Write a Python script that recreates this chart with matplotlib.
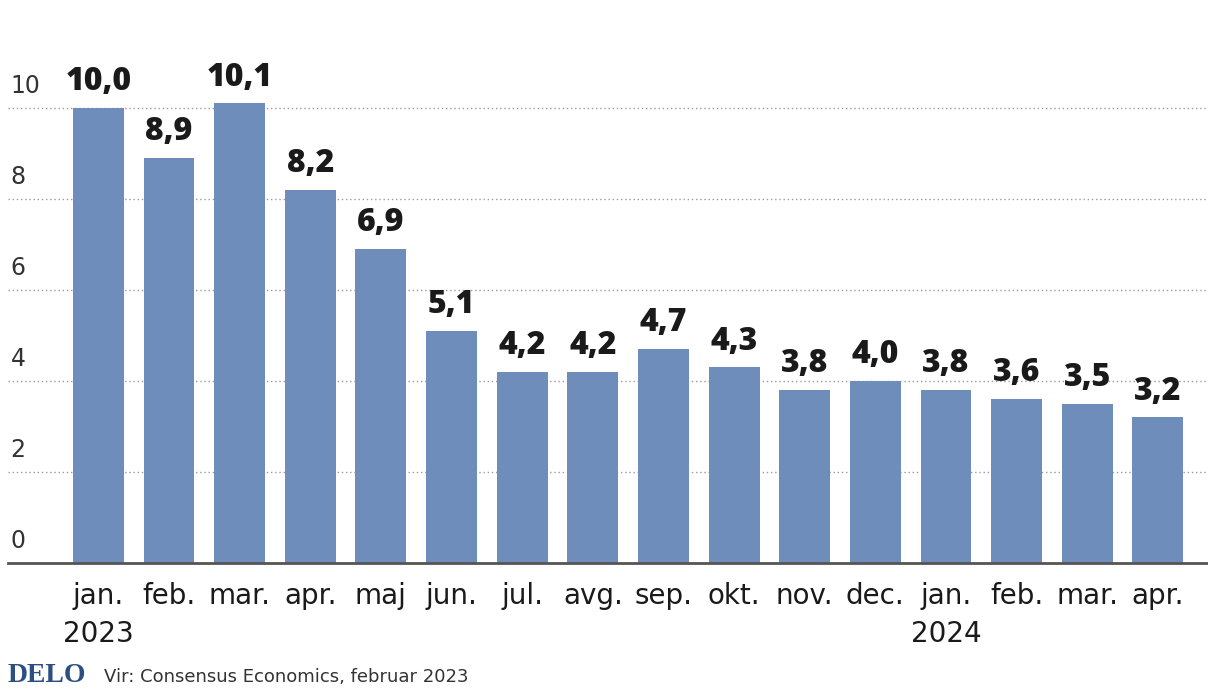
import numpy as np
import matplotlib.pyplot as plt
from matplotlib.transforms import blended_transform_factory

# data
months = ["jan.", "feb.", "mar.", "apr.", "maj", "jun.", "jul.", "avg.",
          "sep.", "okt.", "nov.", "dec.", "jan.", "feb.", "mar.", "apr."]
years = {0: "2023", 12: "2024"}
values = [10.0, 8.9, 10.1, 8.2, 6.9, 5.1, 4.2, 4.2,
          4.7, 4.3, 3.8, 4.0, 3.8, 3.6, 3.5, 3.2]
yticks = [0, 2, 4, 6, 8, 10]

NARROW = ['DejaVu Sans']
BOLD = ['Open Sans', 'DejaVu Sans']
BAR_COLOR = '#6e8dbb'

fig = plt.figure(figsize=(12.08, 6.98), dpi=100)
ax = fig.add_axes([8 / 1208, 135 / 698, 1200 / 1208, 546 / 698])

x = np.arange(len(values))
ax.bar(x, values, width=0.72, color=BAR_COLOR, zorder=2)

ax.set_xlim(-1.28, 15.71)
ax.set_ylim(0, 12)

# dotted grid lines with labels sitting above them
trans = blended_transform_factory(ax.transAxes, ax.transData)
for t in yticks:
    if t > 0:
        ax.axhline(t, color='#9a9a9a', lw=1.0, ls=(0, (1, 2)), zorder=1)
    ax.text(0.002, t + 0.22, str(t), transform=trans, ha='left', va='bottom',
            fontsize=17, color='#333333', family=NARROW)
ax.set_yticks([])

# value labels
for xi, v in zip(x, values):
    ax.annotate(f"{v:.1f}".replace('.', ','), (xi, v), xytext=(0, 7),
                textcoords='offset points', ha='center', va='bottom',
                fontsize=23, fontweight='heavy', color='#1a1a1a', family=BOLD)

# month labels, year below
labels = [m + ("\n" + years[i] if i in years else "") for i, m in enumerate(months)]
ax.set_xticks(x)
ax.set_xticklabels(labels, fontsize=20, color='#1a1a1a', family=NARROW,
                   linespacing=1.45, va='top')
ax.tick_params(axis='x', length=0, pad=14)

for s in ['top', 'right', 'left']:
    ax.spines[s].set_visible(False)
ax.spines['bottom'].set_color('#555555')
ax.spines['bottom'].set_linewidth(2)

# footer
fig.text(8 / 1208, 1 - 676 / 698, "DELO", ha='left', va='center', fontsize=20,
         fontweight='bold', color='#2c4f82', family='Liberation Serif')
fig.text(104 / 1208, 1 - 677 / 698, "Vir: Consensus Economics, februar 2023",
         ha='left', va='center', fontsize=13, color='#333333', family=NARROW)

fig.savefig('out.png', dpi=100, facecolor='white')
